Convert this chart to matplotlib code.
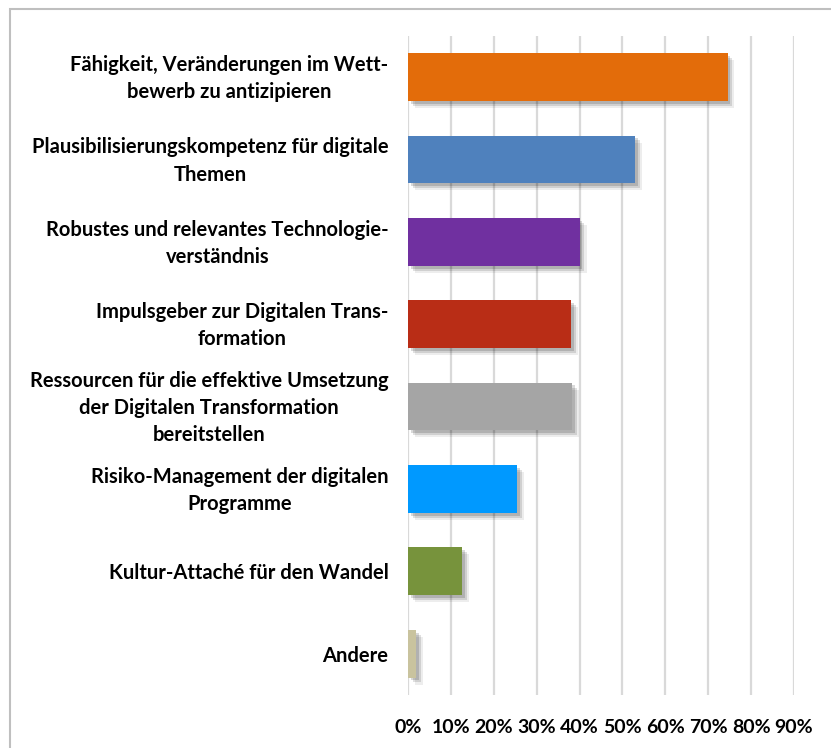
import matplotlib.pyplot as plt
import matplotlib.patheffects as pe
import matplotlib.transforms as mtransforms
from matplotlib.ticker import PercentFormatter
from matplotlib.patches import Rectangle

plt.rcParams['font.family'] = ['Lato', 'DejaVu Sans']

labels = [
    "Fähigkeit, Veränderungen im Wett-\nbewerb zu antizipieren",
    "Plausibilisierungskompetenz für digitale\nThemen",
    "Robustes und relevantes Technologie-\nverständnis",
    "Impulsgeber zur Digitalen Trans-\nformation",
    "Ressourcen für die effektive Umsetzung\nder Digitalen Transformation\nbereitstellen",
    "Risiko-Management der digitalen\nProgramme",
    "Kultur-Attaché für den Wandel",
    "Andere",
]
values = [74.5, 53, 40, 38, 38.2, 25.5, 12.7, 1.8]
colors = ['#E36C0A', '#4F81BD', '#7030A0', '#B92D16', '#A5A5A5',
          '#0099FF', '#77933C', '#C9C39E']

fig = plt.figure(figsize=(8.31, 7.48), dpi=100)
ax = fig.add_axes([0.491, 0.071, 0.4645, 0.881])

y = list(range(len(labels)))
shadow = [pe.SimplePatchShadow(offset=(5, -5), shadow_rgbFace='#000000', alpha=0.07),
          pe.SimplePatchShadow(offset=(3.5, -3.5), shadow_rgbFace='#000000', alpha=0.12),
          pe.SimplePatchShadow(offset=(2, -2), shadow_rgbFace='#000000', alpha=0.15),
          pe.Normal()]
ax.barh(y, [v / 100 for v in values], height=0.58, color=colors, zorder=3,
        path_effects=shadow)

ax.set_xlim(0, 0.9)
ax.set_ylim(len(labels) - 0.5, -0.5)
ax.set_xticks([i / 10 for i in range(10)])
ax.xaxis.set_major_formatter(PercentFormatter(1.0, decimals=0))
ax.set_yticks(y)
ax.set_yticklabels(labels)

ax.grid(axis='x', color='#D9D9D9', linewidth=1.6, zorder=0)
for s in ax.spines.values():
    s.set_visible(False)
ax.tick_params(axis='both', length=0, colors='black')
ax.tick_params(axis='x', labelsize=14, pad=17)
ax.tick_params(axis='y', pad=14)
for lab in ax.get_xticklabels() + ax.get_yticklabels():
    lab.set_fontweight('bold')
lift = mtransforms.ScaledTranslation(0, 4 / 100, fig.dpi_scale_trans)
for lab in ax.get_yticklabels():
    lab.set_fontsize(14.5)
    lab.set_multialignment('center')
    lab.set_linespacing(1.45)
    if '\n' in lab.get_text():
        lab.set_transform(lab.get_transform() + lift)

# chart frame
fig.patches.append(Rectangle((10 / 831, -0.1), 1.2, 1 - 9 / 748 + 0.1,
                             transform=fig.transFigure, fill=False,
                             edgecolor='#BFBFBF', linewidth=1.5))

fig.savefig('out.png', dpi=100)
